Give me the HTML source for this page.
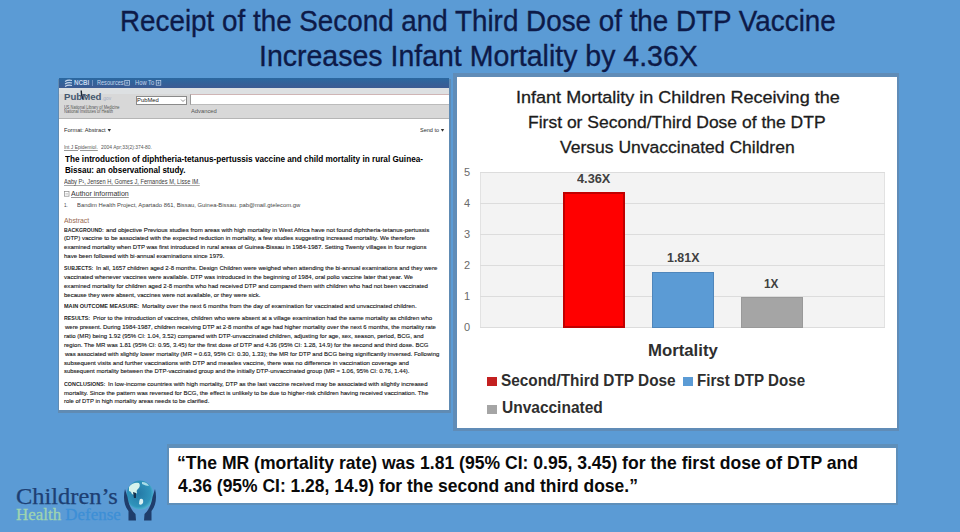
<!DOCTYPE html>
<html><head><meta charset="utf-8">
<style>
html,body{margin:0;padding:0;}
body{width:960px;height:532px;overflow:hidden;background:#5b9bd5;position:relative;font-family:"Liberation Sans",sans-serif;}
.t{position:absolute;white-space:nowrap;transform-origin:0 0;}
.b{position:absolute;}
</style></head><body>
<!-- left panel shadow + panel -->
<div class="b" style="left:58px;top:79px;width:393px;height:334px;background:rgba(105,110,120,0.36)"></div>
<div class="b" style="left:59px;top:78px;width:390px;height:332px;background:#fff"></div>
<div class="b" style="left:59px;top:78px;width:390px;height:10px;background:linear-gradient(#2b68a0,#3c5a92)"></div>
<div class="b" style="left:59px;top:88px;width:390px;height:30px;background:#d8d8d8"></div>
<div class="b" style="left:59px;top:88px;width:390px;height:6px;background:#dde0e2"></div>
<div class="b" style="left:59px;top:118px;width:390px;height:1px;background:#b5b5b5"></div>
<div class="b" style="left:136px;top:96px;width:51px;height:8.5px;background:#fff;box-sizing:border-box;border:0.7px solid #8a8a8a"></div>
<div class="b" style="left:190px;top:94px;width:259px;height:11px;background:#fff;box-sizing:border-box;border-top:1px solid #cfb5b5;border-left:0.8px solid #9a9a9a;border-bottom:0.6px solid #bbb"></div>
<svg class="b" style="left:64px;top:79px" width="9" height="9" viewBox="0 0 9 9"><path d="M1 2.5 Q4 0.5 8 1.5 M1 5 Q4 3 8 4 M1 7.5 Q4 5.5 8 6.5" stroke="#c5d5ec" stroke-width="1.1" fill="none"/></svg>
<div class="b" style="left:92px;top:80px;width:0.8px;height:6px;background:#6f8fbf"></div>
<svg class="b" style="left:180px;top:97.5px" width="6" height="5" viewBox="0 0 6 5"><path d="M1 1.5 L3 3.5 L5 1.5" stroke="#777" stroke-width="0.8" fill="none"/></svg>
<svg class="b" style="left:76px;top:89px" width="12" height="14" viewBox="0 0 12 14"><path d="M5.2 1.5 Q5 5 7 10.5" stroke="#1a2230" stroke-width="1.4" fill="none"/><path d="M6 6 Q9 4.5 11.5 7" stroke="#44576f" stroke-width="1" fill="none"/></svg>
<!-- chart panel -->
<div class="b" style="left:453px;top:73px;width:446px;height:358px;background:rgba(105,110,120,0.33)"></div>
<div class="b" style="left:457px;top:77px;width:440px;height:351px;background:#fff"></div>
<div class="b" style="left:480px;top:172px;width:405px;height:156px;background:#f3f3f3;box-sizing:border-box;border:1px solid #e2e2e2"></div>
<div class="b" style="left:480px;top:203px;width:405px;height:1px;background:#dcdcdc"></div>
<div class="b" style="left:480px;top:234px;width:405px;height:1px;background:#dcdcdc"></div>
<div class="b" style="left:480px;top:265px;width:405px;height:1px;background:#dcdcdc"></div>
<div class="b" style="left:480px;top:296px;width:405px;height:1px;background:#dcdcdc"></div>
<div class="b" style="left:480px;top:172px;width:405px;height:1px;background:#dcdcdc"></div>
<div class="b" style="left:480px;top:327px;width:405px;height:1px;background:#dcdcdc"></div>
<div class="b" style="left:563px;top:192px;width:62px;height:136px;background:#ff0000;box-sizing:border-box;border:2px solid #c00000"></div>
<div class="b" style="left:652px;top:272px;width:62px;height:56px;background:#5b9bd5;box-sizing:border-box;border:1px solid #4f86bb"></div>
<div class="b" style="left:741px;top:297px;width:62px;height:31px;background:#a5a5a5;box-sizing:border-box;border:1px solid #999"></div>
<div class="b" style="left:487px;top:377px;width:9.5px;height:9px;background:#c32020"></div>
<div class="b" style="left:683px;top:377px;width:9.5px;height:9px;background:#5b9bd5"></div>
<div class="b" style="left:487px;top:405px;width:9.5px;height:9px;background:#a5a5a5"></div>
<!-- quote box -->
<div class="b" style="left:167px;top:444px;width:731px;height:61px;background:rgba(105,110,120,0.28)"></div>
<div class="b" style="left:169px;top:448px;width:727px;height:55px;background:#fff"></div>
<!-- logo globe -->
<svg class="b" style="left:120px;top:478px" width="40" height="48" viewBox="0 0 40 48">
  <defs><radialGradient id="g" cx="0.45" cy="0.45" r="0.6"><stop offset="0" stop-color="#2479a6"/><stop offset="0.75" stop-color="#2f93bb"/><stop offset="1" stop-color="#5cc0d8"/></radialGradient></defs>
  <ellipse cx="20" cy="17" rx="13.5" ry="14.5" fill="url(#g)"/>
  <path d="M9 9 Q13 4 19 5 Q21 8 18 11 Q16 12 17 15 Q14 18 12 16 Q11 13 9 13Z" fill="#d6f2ec"/>
  <path d="M13 14 L14 20 L16 20 L16 15Z" fill="#14324f"/>
  <path d="M20 21 Q24 20 23 25 Q21 28 19 26 Q19 23 20 21Z" fill="#d9f0f2"/>
  <path d="M22 4 Q27 4 29 8 Q26 8 22 6Z" fill="#a9dde8"/>
  <path d="M5 11 C2.5 21, 5 29, 8.5 33 L8.5 42.5 L16 42.5 L15.5 36 C12 33, 8.5 27, 7.5 19 Z" fill="#1f3d6b"/>
  <path d="M35 11 C37.5 21, 35 29, 31.5 33 L31.5 42.5 L24 42.5 L24.5 36 C28 33, 31.5 27, 32.5 19 Z" fill="#1f3d6b"/>
</svg>
<svg class="b" style="left:0;top:0" width="460" height="210" viewBox="0 0 460 210">
  <path d="M107.6 129 L111 129 L109.3 131.8Z" fill="#333"/>
  <path d="M440.8 129 L444.2 129 L442.5 131.8Z" fill="#333"/>
  <rect x="124.8" y="80.6" width="4.6" height="4.6" fill="none" stroke="#c5d5ec" stroke-width="0.7"/>
  <path d="M125.8 82.9 H128.4 M127.1 81.6 V84.2" stroke="#c5d5ec" stroke-width="0.6"/>
  <rect x="156.2" y="80.6" width="4.6" height="4.6" fill="none" stroke="#c5d5ec" stroke-width="0.7"/>
  <path d="M157.2 82.9 H159.8 M158.5 81.6 V84.2" stroke="#c5d5ec" stroke-width="0.6"/>
  <rect x="64.4" y="191.6" width="4.6" height="4.6" fill="none" stroke="#888" stroke-width="0.7"/>
  <path d="M65.4 193.9 H68" stroke="#888" stroke-width="0.6"/>
</svg>
<div class="t" style="left:119.61px;top:6.42px;font-family:'Liberation Sans';font-size:29.5px;line-height:29.5px;color:#0d1a48;transform:scaleX(0.9427);-webkit-text-stroke:0.35px #0d1a48;"><span style="font-weight:normal">Receipt of the Second and Third Dose of the DTP Vaccine</span></div>
<div class="t" style="left:258.87px;top:40.52px;font-family:'Liberation Sans';font-size:29.5px;line-height:29.5px;color:#0d1a48;transform:scaleX(0.9661);-webkit-text-stroke:0.35px #0d1a48;"><span style="font-weight:normal">Increases Infant Mortality by 4.36X</span></div>
<div class="t" style="left:515.96px;top:89.47px;font-family:'Liberation Sans';font-size:17.4px;line-height:17.4px;color:#1c1c1c;transform:scaleX(1.0369);-webkit-text-stroke:0.3px #1c1c1c;"><span style="font-weight:normal">Infant Mortality in Children Receiving the</span></div>
<div class="t" style="left:527.99px;top:114.02px;font-family:'Liberation Sans';font-size:17.4px;line-height:17.4px;color:#1c1c1c;transform:scaleX(1.0063);-webkit-text-stroke:0.3px #1c1c1c;"><span style="font-weight:normal">First or Second/Third Dose of the DTP</span></div>
<div class="t" style="left:560.00px;top:139.02px;font-family:'Liberation Sans';font-size:17.4px;line-height:17.4px;color:#1c1c1c;transform:scaleX(1.0074);-webkit-text-stroke:0.3px #1c1c1c;"><span style="font-weight:normal">Versus Unvaccinated Children</span></div>
<div class="t" style="left:577.00px;top:172.83px;font-family:'Liberation Sans';font-size:12.6px;line-height:12.6px;color:#404040;transform:scaleX(1.0146);"><span style="font-weight:bold">4.36X</span></div>
<div class="t" style="left:667.00px;top:252.33px;font-family:'Liberation Sans';font-size:12.6px;line-height:12.6px;color:#404040;transform:scaleX(0.9847);"><span style="font-weight:bold">1.81X</span></div>
<div class="t" style="left:764.00px;top:278.03px;font-family:'Liberation Sans';font-size:12.6px;line-height:12.6px;color:#404040;transform:scaleX(0.9373);"><span style="font-weight:bold">1X</span></div>
<div class="t" style="left:464.00px;top:166.94px;font-family:'Liberation Sans';font-size:11px;line-height:11px;color:#6a6a6a;transform:scaleX(1.0000);"><span style="font-weight:normal">5</span></div>
<div class="t" style="left:464.00px;top:197.94px;font-family:'Liberation Sans';font-size:11px;line-height:11px;color:#6a6a6a;transform:scaleX(1.0000);"><span style="font-weight:normal">4</span></div>
<div class="t" style="left:464.00px;top:228.94px;font-family:'Liberation Sans';font-size:11px;line-height:11px;color:#6a6a6a;transform:scaleX(1.0000);"><span style="font-weight:normal">3</span></div>
<div class="t" style="left:464.00px;top:259.94px;font-family:'Liberation Sans';font-size:11px;line-height:11px;color:#6a6a6a;transform:scaleX(1.0000);"><span style="font-weight:normal">2</span></div>
<div class="t" style="left:464.00px;top:290.94px;font-family:'Liberation Sans';font-size:11px;line-height:11px;color:#6a6a6a;transform:scaleX(1.0000);"><span style="font-weight:normal">1</span></div>
<div class="t" style="left:464.00px;top:321.94px;font-family:'Liberation Sans';font-size:11px;line-height:11px;color:#6a6a6a;transform:scaleX(1.0000);"><span style="font-weight:normal">0</span></div>
<div class="t" style="left:647.93px;top:343.11px;font-family:'Liberation Sans';font-size:15.7px;line-height:15.7px;color:#2e2e2e;transform:scaleX(1.0674);"><span style="font-weight:bold">Mortality</span></div>
<div class="t" style="left:501.00px;top:373.05px;font-family:'Liberation Sans';font-size:16px;line-height:16px;color:#2e2e2e;transform:scaleX(0.9597);"><span style="font-weight:bold">Second/Third DTP Dose</span></div>
<div class="t" style="left:696.56px;top:373.05px;font-family:'Liberation Sans';font-size:16px;line-height:16px;color:#2e2e2e;transform:scaleX(0.9447);"><span style="font-weight:bold">First DTP Dose</span></div>
<div class="t" style="left:502.00px;top:400.45px;font-family:'Liberation Sans';font-size:16px;line-height:16px;color:#2e2e2e;transform:scaleX(0.9684);"><span style="font-weight:bold">Unvaccinated</span></div>
<div class="t" style="left:177.05px;top:453.64px;font-family:'Liberation Sans';font-size:18.5px;line-height:18.5px;color:#0a0a0a;transform:scaleX(0.9494);"><span style="font-weight:bold">“The MR (mortality rate) was 1.81 (95% CI: 0.95, 3.45) for the first dose of DTP and</span></div>
<div class="t" style="left:177.50px;top:477.14px;font-family:'Liberation Sans';font-size:18.5px;line-height:18.5px;color:#0a0a0a;transform:scaleX(0.9437);"><span style="font-weight:bold">4.36 (95% CI: 1.28, 14.9) for the second and third dose.”</span></div>
<div class="t" style="left:16.00px;top:485.66px;font-family:'Liberation Serif';font-size:22.5px;line-height:22.5px;color:#1d3f73;transform:scaleX(1.0861);-webkit-text-stroke:0.25px #1d3f73;"><span style="font-weight:normal">Children’s</span></div>
<div class="t" style="left:16.00px;top:507.18px;font-family:'Liberation Serif';font-size:16.5px;line-height:16.5px;color:#3d8fd6;transform:scaleX(1.0252);-webkit-text-stroke:0.3px;"><span style="font-weight:normal;color:#9fd4b0">Health</span><span style="font-weight:normal;color:#3d8fd6"> Defense</span></div>
<div class="t" style="left:64.40px;top:127.38px;font-family:'Liberation Sans';font-size:6.2px;line-height:6.2px;color:#2a2a2a;transform:scaleX(0.9150);"><span style="font-weight:normal">Format: Abstract</span></div>
<div class="t" style="left:420.00px;top:127.38px;font-family:'Liberation Sans';font-size:6.2px;line-height:6.2px;color:#2a2a2a;transform:scaleX(0.8909);"><span style="font-weight:normal">Send to</span></div>
<div class="t" style="left:64.00px;top:143.68px;font-family:'Liberation Sans';font-size:6.2px;line-height:6.2px;color:#555;transform:scaleX(0.7985);text-decoration:underline;text-decoration-color:#999;"><span style="font-weight:normal">Int J Epidemiol.</span></div>
<div class="t" style="left:101.00px;top:143.68px;font-family:'Liberation Sans';font-size:6.2px;line-height:6.2px;color:#555;transform:scaleX(0.8014);"><span style="font-weight:normal">2004 Apr;33(2):374-80.</span></div>
<div class="t" style="left:65.00px;top:155.22px;font-family:'Liberation Sans';font-size:9px;line-height:9px;color:#000;transform:scaleX(0.9108);"><span style="font-weight:bold">The introduction of diphtheria-tetanus-pertussis vaccine and child mortality in rural Guinea-</span></div>
<div class="t" style="left:65.00px;top:165.62px;font-family:'Liberation Sans';font-size:9px;line-height:9px;color:#000;transform:scaleX(0.8931);"><span style="font-weight:bold">Bissau: an observational study.</span></div>
<div class="t" style="left:64.00px;top:179.43px;font-family:'Liberation Sans';font-size:6.3px;line-height:6.3px;color:#3a3a3a;transform:scaleX(0.9023);text-decoration:underline;text-decoration-color:#aaa;"><span style="font-weight:normal">Aaby P¹, Jensen H, Gomes J, Fernandes M, Lisse IM.</span></div>
<div class="t" style="left:71.00px;top:190.69px;font-family:'Liberation Sans';font-size:6.8px;line-height:6.8px;color:#333;transform:scaleX(1.0402);text-decoration:underline;text-decoration-color:#999;"><span style="font-weight:normal">Author information</span></div>
<div class="t" style="left:64.00px;top:201.98px;font-family:'Liberation Sans';font-size:6.2px;line-height:6.2px;color:#444;transform:scaleX(0.7351);"><span style="font-weight:normal">1.</span></div>
<div class="t" style="left:77.00px;top:201.98px;font-family:'Liberation Sans';font-size:6.2px;line-height:6.2px;color:#444;transform:scaleX(0.9469);"><span style="font-weight:normal">Bandim Health Project, Apartado 861, Bissau, Guinea-Bissau. pab@mail.gtelecom.gw</span></div>
<div class="t" style="left:73.50px;top:79.84px;font-family:'Liberation Sans';font-size:6.5px;line-height:6.5px;color:#c5d5ec;transform:scaleX(0.9638);"><span style="font-weight:bold">NCBI</span></div>
<div class="t" style="left:97.00px;top:79.93px;font-family:'Liberation Sans';font-size:6.3px;line-height:6.3px;color:#c5d5ec;transform:scaleX(0.8848);"><span style="font-weight:normal">Resources</span></div>
<div class="t" style="left:134.80px;top:79.93px;font-family:'Liberation Sans';font-size:6.3px;line-height:6.3px;color:#c5d5ec;transform:scaleX(0.9165);"><span style="font-weight:normal">How To</span></div>
<div class="t" style="left:64.20px;top:93.66px;font-family:'Liberation Sans';font-size:8.2px;line-height:8.2px;color:#44576f;transform:scaleX(1.1747);"><span style="font-weight:bold">PubMed</span></div>
<div class="t" style="left:101.80px;top:96.20px;font-family:'Liberation Sans';font-size:5.2px;line-height:5.2px;color:#a6aec4;transform:scaleX(0.9499);"><span style="font-weight:normal">.gov</span></div>
<div class="t" style="left:64.00px;top:105.51px;font-family:'Liberation Sans';font-size:4.5px;line-height:4.5px;color:#555;transform:scaleX(0.8781);"><span style="font-weight:normal">US National Library of Medicine</span></div>
<div class="t" style="left:64.00px;top:109.81px;font-family:'Liberation Sans';font-size:4.5px;line-height:4.5px;color:#555;transform:scaleX(0.8914);"><span style="font-weight:normal">National Institutes of Health</span></div>
<div class="t" style="left:137.40px;top:97.08px;font-family:'Liberation Sans';font-size:6px;line-height:6px;color:#222;transform:scaleX(0.9723);"><span style="font-weight:normal">PubMed</span></div>
<div class="t" style="left:191.20px;top:107.98px;font-family:'Liberation Sans';font-size:6px;line-height:6px;color:#555;transform:scaleX(0.9678);"><span style="font-weight:normal">Advanced</span></div>
<div class="t" style="left:64.00px;top:216.75px;font-family:'Liberation Sans';font-size:7.5px;line-height:7.5px;color:#9a6a50;transform:scaleX(0.9147);"><span style="font-weight:normal">Abstract</span></div>
<div class="t" style="left:64.30px;top:226.88px;font-family:'Liberation Sans';font-size:6.0px;line-height:6.0px;color:#222;transform:scaleX(0.8631);"><span style="font-weight:bold">BACKGROUND:</span></div>
<div class="t" style="left:106.40px;top:226.88px;font-family:'Liberation Sans';font-size:6.0px;line-height:6.0px;color:#161616;transform:scaleX(1.0217);-webkit-text-stroke:0.12px #161616;"><span style="font-weight:normal">and objective Previous studies from areas with high mortality in West Africa have not found diphtheria-tetanus-pertussis</span></div>
<div class="t" style="left:64.30px;top:235.48px;font-family:'Liberation Sans';font-size:6.0px;line-height:6.0px;color:#161616;transform:scaleX(1.0121);-webkit-text-stroke:0.12px #161616;"><span style="font-weight:normal">(DTP) vaccine to be associated with the expected reduction in mortality, a few studies suggesting increased mortality. We therefore</span></div>
<div class="t" style="left:64.30px;top:244.18px;font-family:'Liberation Sans';font-size:6.0px;line-height:6.0px;color:#161616;transform:scaleX(1.0117);-webkit-text-stroke:0.12px #161616;"><span style="font-weight:normal">examined mortality when DTP was first introduced in rural areas of Guinea-Bissau in 1984-1987. Setting Twenty villages in four regions</span></div>
<div class="t" style="left:64.30px;top:252.88px;font-family:'Liberation Sans';font-size:6.0px;line-height:6.0px;color:#161616;transform:scaleX(1.0037);-webkit-text-stroke:0.12px #161616;"><span style="font-weight:normal">have been followed with bi-annual examinations since 1979.</span></div>
<div class="t" style="left:64.30px;top:265.38px;font-family:'Liberation Sans';font-size:6.0px;line-height:6.0px;color:#222;transform:scaleX(0.8616);"><span style="font-weight:bold">SUBJECTS:</span></div>
<div class="t" style="left:96.00px;top:265.38px;font-family:'Liberation Sans';font-size:6.0px;line-height:6.0px;color:#161616;transform:scaleX(1.0082);-webkit-text-stroke:0.12px #161616;"><span style="font-weight:normal">In all, 1657 children aged 2-8 months. Design Children were weighed when attending the bi-annual examinations and they were</span></div>
<div class="t" style="left:64.30px;top:274.18px;font-family:'Liberation Sans';font-size:6.0px;line-height:6.0px;color:#161616;transform:scaleX(1.0134);-webkit-text-stroke:0.12px #161616;"><span style="font-weight:normal">vaccinated whenever vaccines were available. DTP was introduced in the beginning of 1984, oral polio vaccine later that year. We</span></div>
<div class="t" style="left:64.30px;top:282.98px;font-family:'Liberation Sans';font-size:6.0px;line-height:6.0px;color:#161616;transform:scaleX(1.0097);-webkit-text-stroke:0.12px #161616;"><span style="font-weight:normal">examined mortality for children aged 2-8 months who had received DTP and compared them with children who had not been vaccinated</span></div>
<div class="t" style="left:64.30px;top:291.98px;font-family:'Liberation Sans';font-size:6.0px;line-height:6.0px;color:#161616;transform:scaleX(0.9980);-webkit-text-stroke:0.12px #161616;"><span style="font-weight:normal">because they were absent, vaccines were not available, or they were sick.</span></div>
<div class="t" style="left:64.30px;top:303.28px;font-family:'Liberation Sans';font-size:6.0px;line-height:6.0px;color:#222;transform:scaleX(0.9246);"><span style="font-weight:bold">MAIN OUTCOME MEASURE:</span></div>
<div class="t" style="left:141.90px;top:303.28px;font-family:'Liberation Sans';font-size:6.0px;line-height:6.0px;color:#161616;transform:scaleX(1.0052);-webkit-text-stroke:0.12px #161616;"><span style="font-weight:normal">Mortality over the next 6 months from the day of examination for vaccinated and unvaccinated children.</span></div>
<div class="t" style="left:64.30px;top:315.28px;font-family:'Liberation Sans';font-size:6.0px;line-height:6.0px;color:#222;transform:scaleX(0.8831);"><span style="font-weight:bold">RESULTS:</span></div>
<div class="t" style="left:92.80px;top:315.28px;font-family:'Liberation Sans';font-size:6.0px;line-height:6.0px;color:#161616;transform:scaleX(1.0118);-webkit-text-stroke:0.12px #161616;"><span style="font-weight:normal">Prior to the introduction of vaccines, children who were absent at a village examination had the same mortality as children who</span></div>
<div class="t" style="left:65.30px;top:324.18px;font-family:'Liberation Sans';font-size:6.0px;line-height:6.0px;color:#161616;transform:scaleX(0.9987);-webkit-text-stroke:0.12px #161616;"><span style="font-weight:normal">were present. During 1984-1987, children receiving DTP at 2-8 months of age had higher mortality over the next 6 months, the mortality rate</span></div>
<div class="t" style="left:64.30px;top:333.08px;font-family:'Liberation Sans';font-size:6.0px;line-height:6.0px;color:#161616;transform:scaleX(1.0022);-webkit-text-stroke:0.12px #161616;"><span style="font-weight:normal">ratio (MR) being 1.92 (95% CI: 1.04, 3.52) compared with DTP-unvaccinated children, adjusting for age, sex, season, period, BCG, and</span></div>
<div class="t" style="left:64.30px;top:341.98px;font-family:'Liberation Sans';font-size:6.0px;line-height:6.0px;color:#161616;transform:scaleX(1.0031);-webkit-text-stroke:0.12px #161616;"><span style="font-weight:normal">region. The MR was 1.81 (95% CI: 0.95, 3.45) for the first dose of DTP and 4.36 (95% CI: 1.28, 14.9) for the second and third dose. BCG</span></div>
<div class="t" style="left:65.30px;top:350.88px;font-family:'Liberation Sans';font-size:6.0px;line-height:6.0px;color:#161616;transform:scaleX(1.0021);-webkit-text-stroke:0.12px #161616;"><span style="font-weight:normal">was associated with slightly lower mortality (MR = 0.63, 95% CI: 0.30, 1.33); the MR for DTP and BCG being significantly inversed. Following</span></div>
<div class="t" style="left:64.30px;top:359.68px;font-family:'Liberation Sans';font-size:6.0px;line-height:6.0px;color:#161616;transform:scaleX(1.0247);-webkit-text-stroke:0.12px #161616;"><span style="font-weight:normal">subsequent visits and further vaccinations with DTP and measles vaccine, there was no difference in vaccination coverage and</span></div>
<div class="t" style="left:64.30px;top:368.38px;font-family:'Liberation Sans';font-size:6.0px;line-height:6.0px;color:#161616;transform:scaleX(0.9905);-webkit-text-stroke:0.12px #161616;"><span style="font-weight:normal">subsequent mortality between the DTP-vaccinated group and the initially DTP-unvaccinated group (MR = 1.06, 95% CI: 0.76, 1.44).</span></div>
<div class="t" style="left:64.30px;top:380.68px;font-family:'Liberation Sans';font-size:6.0px;line-height:6.0px;color:#222;transform:scaleX(0.8935);"><span style="font-weight:bold">CONCLUSIONS:</span></div>
<div class="t" style="left:108.10px;top:380.68px;font-family:'Liberation Sans';font-size:6.0px;line-height:6.0px;color:#161616;transform:scaleX(1.0160);-webkit-text-stroke:0.12px #161616;"><span style="font-weight:normal">In low-income countries with high mortality, DTP as the last vaccine received may be associated with slightly increased</span></div>
<div class="t" style="left:64.30px;top:389.58px;font-family:'Liberation Sans';font-size:6.0px;line-height:6.0px;color:#161616;transform:scaleX(1.0066);-webkit-text-stroke:0.12px #161616;"><span style="font-weight:normal">mortality. Since the pattern was reversed for BCG, the effect is unlikely to be due to higher-risk children having received vaccination. The</span></div>
<div class="t" style="left:64.30px;top:398.38px;font-family:'Liberation Sans';font-size:6.0px;line-height:6.0px;color:#161616;transform:scaleX(0.9840);-webkit-text-stroke:0.12px #161616;"><span style="font-weight:normal">role of DTP in high mortality areas needs to be clarified.</span></div>
</body></html>
